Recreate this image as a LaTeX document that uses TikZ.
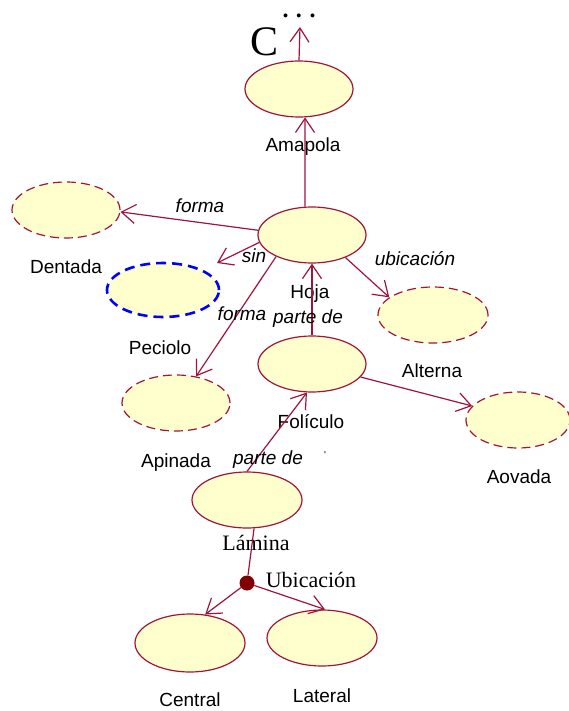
\documentclass[tikz,border=0pt]{standalone}
\usepackage{fontspec}
\setmainfont{Liberation Sans}
\newfontfamily\timesfont{Liberation Serif}
\usetikzlibrary{shapes.geometric,arrows.meta,calc}
\definecolor{ucfill}{RGB}{255,255,206}
\definecolor{rosered}{RGB}{160,20,60}
\definecolor{dotred}{RGB}{128,0,0}
\begin{document}
\begin{tikzpicture}[x=1pt,y=-1pt,
  uc/.style={ellipse, draw=rosered, fill=ucfill, line width=1.2pt, inner sep=0pt,
             minimum width=108pt, minimum height=56pt},
  ucdash/.style={uc, dash pattern=on 9pt off 5pt},
  ucblue/.style={uc, draw=blue, line width=2.6pt, dash pattern=on 10pt off 6pt},
  lbl/.style={anchor=base, inner sep=0pt, font=\fontsize{19}{19}\selectfont},
  rel/.style={anchor=base, inner sep=0pt, font=\fontsize{19}{19}\selectfont\itshape},
  slbl/.style={anchor=base, inner sep=0pt, font=\timesfont\fontsize{22}{22}\selectfont},
  arr/.style={draw=rosered, line width=1.2pt, -{Straight Barb[length=14pt,width=19pt,line width=1.2pt]}},
  link/.style={draw=rosered, line width=1.2pt}
]
\useasboundingbox (0,0) rectangle (569,711);

% use cases
\node[uc]     (amapola) at (299,89)  {};
\node[uc]     (hoja)    at (312,235) {};
\node[ucdash] (dentada) at (66,210)  {};
\node[ucblue, minimum width=112pt, minimum height=54pt] (peciolo) at (163,290) {};
\node[ucdash] (apinada) at (176,403) {};
\node[ucdash, minimum width=110pt] (alterna) at (433,315) {};
\node[uc]     (foliculo) at (312,364) {};
\node[ucdash, minimum width=104pt] (aovada) at (518,420) {};
\node[uc, minimum width=110pt] (lamina) at (247,500) {};
\node[uc, minimum width=110pt, minimum height=58pt] (central) at (190,643) {};
\node[uc, minimum width=110pt] (lateral) at (322,638) {};
\node[circle, fill=dotred, inner sep=0pt, minimum size=15pt] (ubic) at (247,583) {};

% names
\node[lbl] (amapolaL) at (303,152) {Amapola};
\node[lbl] (hojaL)    at (310,298) {Hoja};
\node[lbl] (dentadaL) at (66,273)  {Dentada};
\node[lbl] (pecioloL) at (160,354) {Peciolo};
\node[lbl] (apinadaL) at (176,467) {Apinada};
\node[lbl] (alternaL) at (432,377) {Alterna};
\node[lbl] (foliculoL) at (311,428) {Folículo};
\node[lbl] (aovadaL)  at (519,483) {Aovada};
\node[slbl] (laminaL) at (256,550) {Lámina};
\node[slbl] (ubicL)   at (311,587) {Ubicación};
\node[lbl] (centralL) at (190,706) {Central};
\node[lbl] (lateralL) at (322,702) {Lateral};

% heading
\node[anchor=base, inner sep=0pt, font=\timesfont\fontsize{42}{42}\selectfont] (cletter) at (265,56) {C};
\node[anchor=base, inner sep=0pt, font=\timesfont\bfseries\fontsize{24}{24}\selectfont] (dots) at (299,18) {.\hspace{7.5pt}.\hspace{7.5pt}.};
\coordinate (uptip) at (300,27);

% relations
\draw[arr] (hoja.104) -- (amapola.282);
\draw[arr] (amapola.north) -- (uptip);
\draw[arr] (hoja.175) -- (dentada.358);
\draw[arr] (hoja.188) -- ($(peciolo.center)+(54,-27)$);
\draw[arr] (hoja.211) -- (apinada.53);
\draw[arr] (hoja.326) -- (alterna.158);
\draw[arr] (foliculo.north) -- (hoja.south);
\draw[arr] (foliculo.345) -- (aovada.163);
\draw[arr] (lamina.north) -- (foliculo.260);
\draw[link] (lamina.284) -- (ubic);
\draw[arr] (ubic) -- (central.62);
\draw[arr] (ubic) -- (lateral.84);

% relation labels
\node[rel] (formaA) at (200,212) {forma};
\node[rel] (sinL)   at (254,262) {sin};
\node[rel] (formaB) at (242,320) {forma};
\node[rel] (ubicR)  at (415,265) {ubicación};
\node[rel] (parteA) at (308,323) {parte de};
\node[rel] (parteB) at (268,464) {parte de};
\node[anchor=base, inner sep=0pt, font=\fontsize{10}{10}\selectfont] (tick) at (325,458) {\textquotesingle};
\end{tikzpicture}
\end{document}
